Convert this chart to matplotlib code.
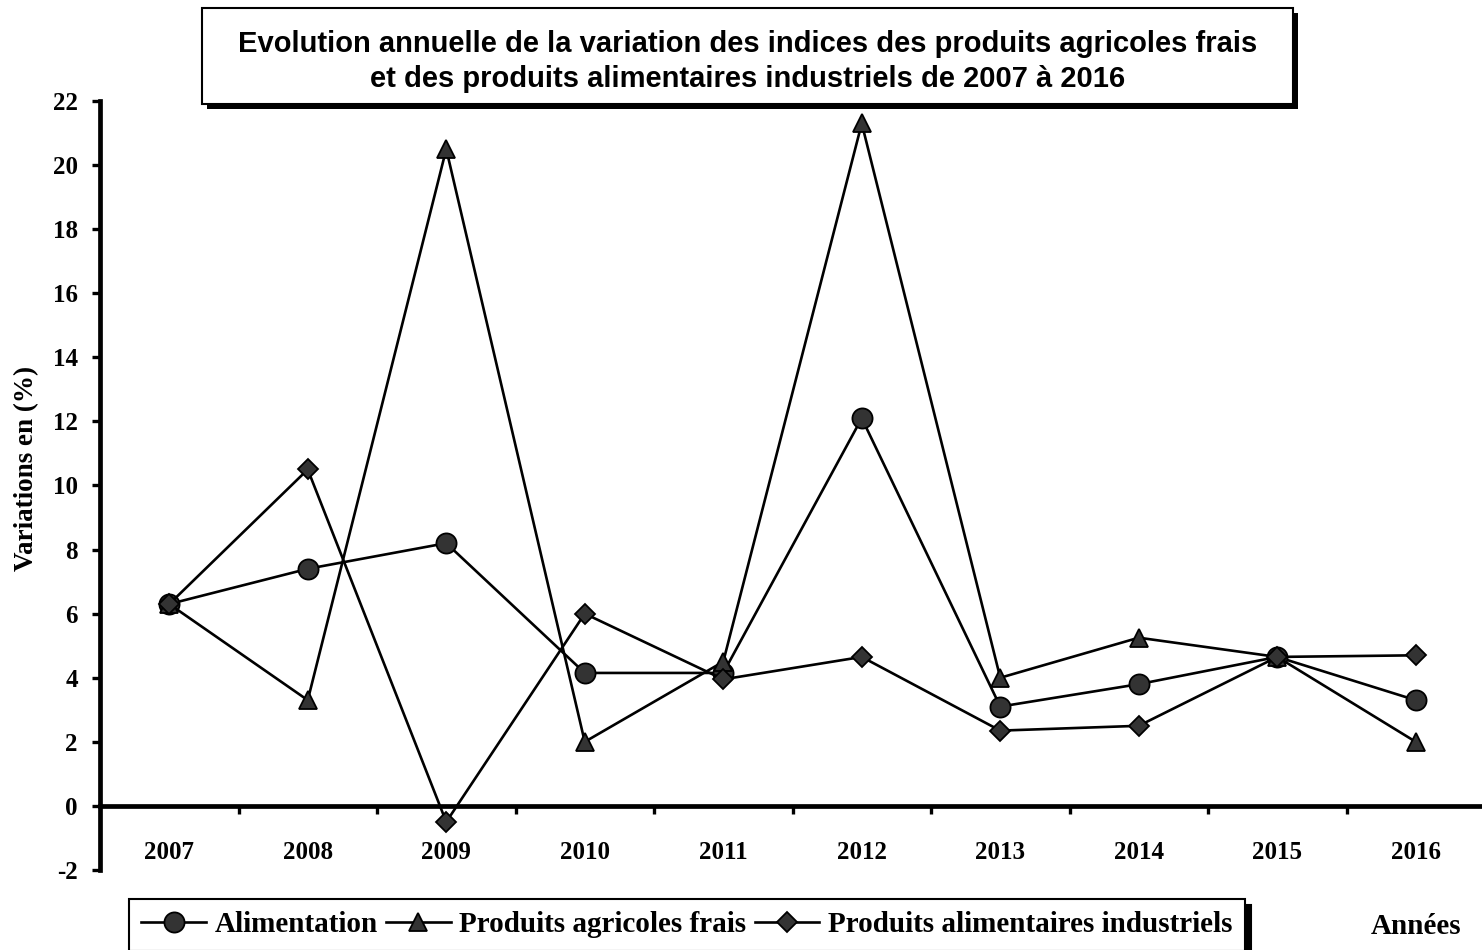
import matplotlib
matplotlib.use("Agg")
import matplotlib.pyplot as plt
from matplotlib.patches import Rectangle

years = ["2007", "2008", "2009", "2010", "2011", "2012", "2013", "2014", "2015", "2016"]
alimentation = [6.3, 7.4, 8.2, 4.15, 4.15, 12.1, 3.1, 3.8, 4.65, 3.3]
agricoles = [6.3, 3.3, 20.5, 2.0, 4.5, 21.3, 4.0, 5.25, 4.65, 2.0]
industriels = [6.3, 10.5, -0.5, 6.0, 3.95, 4.65, 2.35, 2.5, 4.65, 4.7]
yticks = list(range(-2, 23, 2))

serif = ["Liberation Serif", "DejaVu Serif"]
sans = ["Liberation Sans", "DejaVu Sans"]
face = "#333333"

fig = plt.figure(figsize=(14.82, 9.5), dpi=100)
W, H = 1482, 950
ax = fig.add_axes([100 / W, 1 - 870 / H, 1385 / W, 769 / H])

x = list(range(len(years)))
style = dict(color="black", linewidth=1.9, markerfacecolor=face,
             markeredgecolor="black", markeredgewidth=1.3)
ax.plot(x, alimentation, marker="o", markersize=14.5, label="Alimentation", **style)
ax.plot(x, agricoles, marker="^", markersize=13, label="Produits agricoles frais", **style)
ax.plot(x, industriels, marker="D", markersize=10, label="Produits alimentaires industriels", **style)

ax.set_xlim(-0.5, 9.5)
ax.set_ylim(-2, 22)

for s in ["top", "right"]:
    ax.spines[s].set_visible(False)
ax.spines["left"].set_linewidth(3.4)
ax.spines["bottom"].set_linewidth(3.4)
ax.spines["bottom"].set_position(("data", 0))

ax.set_yticks(yticks)
ax.set_yticklabels([str(v) for v in yticks], fontfamily=serif, fontweight="bold", fontsize=18)
ax.tick_params(axis="y", direction="out", length=6, width=2.4, pad=10)

ax.set_xticks(x)
ax.set_xticklabels(years, fontfamily=serif, fontweight="bold", fontsize=18)
ax.tick_params(axis="x", which="major", length=0, pad=25)
ax.set_xticks([i + 0.5 for i in range(9)], minor=True)
ax.tick_params(axis="x", which="minor", direction="out", length=6, width=2.4)

fig.text(27 / W, 1 - 468 / H, "Variations en (%)", rotation=90, ha="center", va="center",
         fontfamily=serif, fontweight="bold", fontsize=19.5)
fig.text(1416 / W, 1 - 927 / H, "Années", ha="center", va="center",
         fontfamily=serif, fontweight="bold", fontsize=21)

# title box with shadow
bx0, bx1, by0, by1 = 202, 1293, 8, 104
fig.add_artist(Rectangle(((bx0 + 5) / W, 1 - (by1 + 5) / H), (bx1 - bx0) / W, (by1 - by0) / H,
                         transform=fig.transFigure, facecolor="black", edgecolor="none"))
fig.add_artist(Rectangle((bx0 / W, 1 - by1 / H), (bx1 - bx0) / W, (by1 - by0) / H,
                         transform=fig.transFigure, facecolor="white", edgecolor="black",
                         linewidth=1.5))
fig.text((bx0 + bx1) / 2 / W, 1 - 44 / H,
         "Evolution annuelle de la variation des indices des produits agricoles frais",
         ha="center", va="center", fontfamily=sans, fontweight="bold", fontsize=21)
fig.text((bx0 + bx1) / 2 / W, 1 - 79 / H,
         "et des produits alimentaires industriels de 2007 à 2016",
         ha="center", va="center", fontfamily=sans, fontweight="bold", fontsize=21)

leg = fig.legend(loc="center", bbox_to_anchor=(687 / W, 1 - 925 / H), ncol=3,
                 prop={"family": serif, "weight": "bold", "size": 21},
                 frameon=True, fancybox=False,
                 shadow={"color": "black", "alpha": 1, "ox": 4, "oy": -4},
                 handlelength=2.2, handletextpad=0.3, columnspacing=0.3,
                 borderpad=0.43)
leg.get_frame().set_edgecolor("black")
leg.get_frame().set_linewidth(1.5)

fig.savefig("out.png", dpi=100)
